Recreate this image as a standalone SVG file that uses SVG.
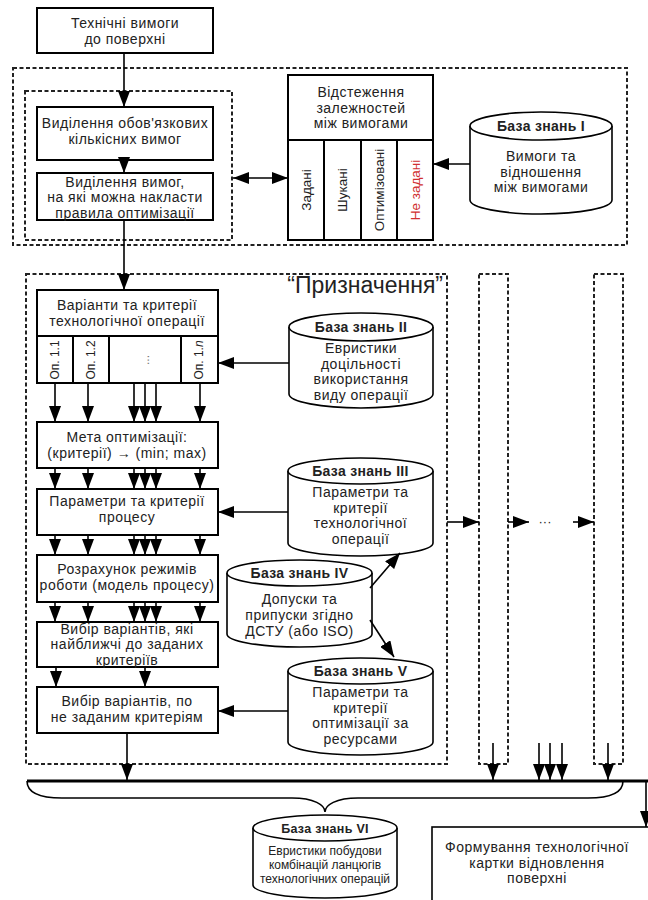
<svg xmlns="http://www.w3.org/2000/svg" width="648" height="900" viewBox="0 0 648 900">
<defs>
<marker id="ah" viewBox="0 0 16 12" refX="16" refY="6" markerWidth="16" markerHeight="12" markerUnits="userSpaceOnUse" orient="auto-start-reverse">
<path d="M0,0 L16,6 L0,12 Z" fill="#000"/>
</marker>
<style>
text{font-family:"Liberation Sans",Arial,sans-serif;fill:#222;}
.t{font-size:14px;letter-spacing:0.5px;text-anchor:middle;}
.r{font-size:13.5px;text-anchor:middle;}
.b{font-size:14px;font-weight:bold;letter-spacing:0.3px;text-anchor:middle;}
.s{font-size:12px;text-anchor:middle;}
.box{fill:#fff;stroke:#000;stroke-width:2;}
.dash{fill:none;stroke:#222;stroke-width:2;stroke-dasharray:4,2.5;}
.cyl{fill:#fff;stroke:#000;stroke-width:1.6;}
.ln{fill:none;stroke:#000;stroke-width:1.6;}
.ar{fill:none;stroke:#000;stroke-width:1.6;marker-end:url(#ah);}
</style>
</defs>
<rect width="648" height="900" fill="#fff"/>

<g id="frames">
<rect class="dash" x="13" y="68" width="614" height="177"/>
<rect class="dash" x="25" y="91" width="207" height="149"/>
<rect class="dash" x="26" y="274" width="421" height="490"/>
<rect class="dash" x="479" y="274" width="29" height="490"/>
<rect class="dash" x="594" y="274" width="29" height="490"/>
<text x="443" y="293" style="font-size:23px;text-anchor:end;">“Призначення”</text>
</g>

<g id="n-tech">
<rect class="box" x="37" y="8" width="176" height="45"/>
<text class="t" x="125" y="28">Технічні вимоги</text>
<text class="t" x="125" y="44">до поверхні</text>
</g>

<g id="n-select1">
<rect class="box" x="37" y="107" width="176" height="53"/>
<text class="t" x="125" y="128">Виділення обов'язкових</text>
<text class="t" x="125" y="144">кількісних вимог</text>
</g>

<g id="n-select2">
<rect class="box" x="37" y="173" width="176" height="47"/>
<text class="t" x="125" y="186.5">Виділення вимог,</text>
<text class="t" x="125" y="202.2">на які можна накласти</text>
<text class="t" x="125" y="217.9">правила оптимізації</text>
</g>

<g id="n-track">
<rect class="box" x="288" y="75" width="145" height="165"/>
<line class="ln" x1="288" y1="140" x2="433" y2="140" style="stroke-width:2"/>
<line class="ln" x1="324" y1="140" x2="324" y2="240" style="stroke-width:2"/>
<line class="ln" x1="361" y1="140" x2="361" y2="240" style="stroke-width:2"/>
<line class="ln" x1="397" y1="140" x2="397" y2="240" style="stroke-width:2"/>
<text class="t" x="361" y="97">Відстеження</text>
<text class="t" x="361" y="112.7">залежностей</text>
<text class="t" x="361" y="128.4">між вимогами</text>
<text class="r" transform="translate(311,190) rotate(-90)">Задані</text>
<text class="r" transform="translate(347,190) rotate(-90)">Шукані</text>
<text class="r" transform="translate(384,190) rotate(-90)">Оптимізовані</text>
<text class="r" transform="translate(420,190) rotate(-90)" style="fill:#d03030">Не задані</text>
</g>

<g id="n-kb1">
<path class="cyl" d="M470,126 V200 A71,14 0 0 0 612,200 V126"/>
<ellipse class="cyl" cx="541" cy="126" rx="71" ry="14"/>
<text class="b" x="541" y="131">База знань I</text>
<text class="t" x="541" y="161">Вимоги та</text>
<text class="t" x="541" y="176.7">відношення</text>
<text class="t" x="541" y="192.4">між вимогами</text>
</g>

<g id="n-variants">
<rect class="box" x="37" y="290" width="181" height="93"/>
<line class="ln" x1="37" y1="336" x2="218" y2="336" style="stroke-width:2"/>
<line class="ln" x1="73" y1="336" x2="73" y2="383" style="stroke-width:2"/>
<line class="ln" x1="109" y1="336" x2="109" y2="383" style="stroke-width:2"/>
<line class="ln" x1="181" y1="336" x2="181" y2="383" style="stroke-width:2"/>
<text class="t" x="127" y="310">Варіанти та критерії</text>
<text class="t" x="127" y="326">технологічної операції</text>
<text class="s" transform="translate(59,360) rotate(-90)">Оп. 1.1</text>
<text class="s" transform="translate(95,360) rotate(-90)">Оп. 1.2</text>
<text class="s" transform="translate(149,360) rotate(-90)" style="fill:#777">...</text>
<text class="s" transform="translate(203,360) rotate(-90)">Оп. 1.<tspan style="font-style:italic">n</tspan></text>
</g>

<g id="n-kb2">
<path class="cyl" d="M289,327 V394 A72,14 0 0 0 433,394 V327"/>
<ellipse class="cyl" cx="361" cy="327" rx="72" ry="14"/>
<text class="b" x="361" y="332">База знань II</text>
<text class="t" x="361" y="353">Евристики</text>
<text class="t" x="361" y="368.7">доцільності</text>
<text class="t" x="361" y="384.4">використання</text>
<text class="t" x="361" y="400.1">виду операції</text>
</g>

<g id="n-goal">
<rect class="box" x="37" y="422" width="181" height="46"/>
<text class="t" x="127" y="442">Мета оптимізації:</text>
<text class="t" x="127" y="458">(критерії) → (min; max)</text>
</g>

<g id="n-params">
<rect class="box" x="37" y="489" width="181" height="46"/>
<text class="t" x="127" y="506">Параметри та критерії</text>
<text class="t" x="127" y="522">процесу</text>
</g>

<g id="n-calc">
<rect class="box" x="37" y="555" width="181" height="47"/>
<text class="t" x="127" y="574">Розрахунок режимів</text>
<text class="t" x="127" y="590">роботи (модель процесу)</text>
</g>

<g id="n-choice1">
<rect class="box" x="37" y="622" width="181" height="45"/>
<text class="t" x="127" y="633.5">Вибір варіантів, які</text>
<text class="t" x="127" y="649.2">найближчі до заданих</text>
<text class="t" x="127" y="664.9">критеріїв</text>
</g>

<g id="n-choice2">
<rect class="box" x="37" y="687" width="181" height="46"/>
<text class="t" x="127" y="706">Вибір варіантів, по</text>
<text class="t" x="127" y="722">не заданим критеріям</text>
</g>

<g id="n-kb3">
<path class="cyl" d="M288,471 V543 A72.5,13 0 0 0 433,543 V471"/>
<ellipse class="cyl" cx="360.5" cy="471" rx="72.5" ry="13"/>
<text class="b" x="360.5" y="476">База знань III</text>
<text class="t" x="360.5" y="497">Параметри та</text>
<text class="t" x="360.5" y="512.7">критерії</text>
<text class="t" x="360.5" y="528.4">технологічної</text>
<text class="t" x="360.5" y="544.1">операції</text>
</g>

<g id="n-kb4">
<path class="cyl" d="M227,573 V634 A72.5,13 0 0 0 372,634 V573"/>
<ellipse class="cyl" cx="299.5" cy="573" rx="72.5" ry="13"/>
<text class="b" x="299.5" y="578">База знань IV</text>
<text class="t" x="299.5" y="604">Допуски та</text>
<text class="t" x="299.5" y="620">припуски згідно</text>
<text class="t" x="299.5" y="636">ДСТУ (або ISO)</text>
</g>

<g id="n-kb5">
<path class="cyl" d="M288,671 V742 A72.5,13 0 0 0 433,742 V671"/>
<ellipse class="cyl" cx="360.5" cy="671" rx="72.5" ry="13"/>
<text class="b" x="360.5" y="676">База знань V</text>
<text class="t" x="360.5" y="697">Параметри та</text>
<text class="t" x="360.5" y="712.7">критерії</text>
<text class="t" x="360.5" y="728.4">оптимізації за</text>
<text class="t" x="360.5" y="744.1">ресурсами</text>
</g>

<g id="n-kb6">
<path class="cyl" d="M253,828 V885 A72,13 0 0 0 397,885 V828"/>
<ellipse class="cyl" cx="325" cy="828" rx="72" ry="13"/>
<text class="b" x="325" y="833" style="font-size:12.5px">База знань VI</text>
<text class="s" x="325" y="855">Евристики побудови</text>
<text class="s" x="325" y="869">комбінацій ланцюгів</text>
<text class="s" x="325" y="883">технологічних операцій</text>
</g>

<g id="n-card">
<rect class="box" x="432" y="827" width="240" height="100" style="stroke-width:1.6"/>
<text class="t" x="537" y="852">Формування технологічної</text>
<text class="t" x="537" y="867.7">картки відновлення</text>
<text class="t" x="537" y="883.4">поверхні</text>
</g>

<g id="connectors">
<line class="ar" x1="124" y1="53" x2="124" y2="107"/>
<line class="ar" x1="124" y1="160" x2="124" y2="173"/>
<line class="ar" x1="124" y1="220" x2="124" y2="290"/>
<line class="ar" x1="233" y1="178" x2="288" y2="178" style="marker-start:url(#ah)"/>
<line class="ar" x1="470" y1="164" x2="433" y2="164"/>
<line class="ar" x1="289" y1="363" x2="218" y2="363"/>
<line class="ar" x1="288" y1="512" x2="218" y2="512"/>
<line class="ar" x1="288" y1="711" x2="218" y2="711"/>
<line class="ar" x1="370" y1="588" x2="400" y2="553"/>
<line class="ar" x1="370" y1="620" x2="394" y2="657"/>

<g id="arrows-r1">
<line class="ar" x1="55" y1="383" x2="55" y2="422"/>
<line class="ar" x1="88" y1="383" x2="88" y2="422"/>
<line class="ar" x1="134" y1="383" x2="134" y2="422"/>
<line class="ar" x1="145" y1="383" x2="145" y2="422"/>
<line class="ar" x1="156" y1="383" x2="156" y2="422"/>
<line class="ar" x1="200" y1="383" x2="200" y2="422"/>
</g>
<g id="arrows-r2">
<line class="ar" x1="55" y1="468" x2="55" y2="489"/>
<line class="ar" x1="88" y1="468" x2="88" y2="489"/>
<line class="ar" x1="134" y1="468" x2="134" y2="489"/>
<line class="ar" x1="145" y1="468" x2="145" y2="489"/>
<line class="ar" x1="156" y1="468" x2="156" y2="489"/>
<line class="ar" x1="200" y1="468" x2="200" y2="489"/>
</g>
<g id="arrows-r3">
<line class="ar" x1="55" y1="535" x2="55" y2="555"/>
<line class="ar" x1="88" y1="535" x2="88" y2="555"/>
<line class="ar" x1="134" y1="535" x2="134" y2="555"/>
<line class="ar" x1="145" y1="535" x2="145" y2="555"/>
<line class="ar" x1="156" y1="535" x2="156" y2="555"/>
<line class="ar" x1="200" y1="535" x2="200" y2="555"/>
</g>
<g id="arrows-r4">
<line class="ar" x1="55" y1="602" x2="55" y2="622"/>
<line class="ar" x1="88" y1="602" x2="88" y2="622"/>
<line class="ar" x1="134" y1="602" x2="134" y2="622"/>
<line class="ar" x1="145" y1="602" x2="145" y2="622"/>
<line class="ar" x1="156" y1="602" x2="156" y2="622"/>
<line class="ar" x1="200" y1="602" x2="200" y2="622"/>
</g>
<line class="ar" x1="56" y1="667" x2="56" y2="687"/>
<line class="ar" x1="145" y1="667" x2="145" y2="687"/>
<line class="ar" x1="127" y1="733" x2="127" y2="780"/>

<line class="ar" x1="447" y1="522" x2="479" y2="522"/>
<line class="ar" x1="508" y1="522" x2="529" y2="522"/>
<text x="545" y="526" style="font-size:13px;text-anchor:middle;">···</text>
<line class="ar" x1="573" y1="522" x2="594" y2="522"/>

<line class="ar" x1="493" y1="743" x2="493" y2="780"/>
<line class="ar" x1="539" y1="743" x2="539" y2="780"/>
<line class="ar" x1="550" y1="743" x2="550" y2="780"/>
<line class="ar" x1="562" y1="743" x2="562" y2="780"/>
<line class="ar" x1="608" y1="743" x2="608" y2="780"/>

<line x1="27" y1="781" x2="648" y2="781" style="stroke:#000;stroke-width:3"/>
<path class="ln" d="M27,781 C27,793 40,798 62,798 L292,798 C314,798 325,805 325,812 C325,805 336,798 358,798 L588,798 C610,798 623,793 623,781"/>
<line class="ar" x1="646" y1="781" x2="646" y2="827"/>
</g>
</svg>
